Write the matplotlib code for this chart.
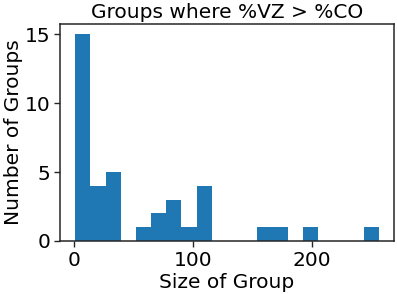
import matplotlib
matplotlib.use("Agg")
import matplotlib.pyplot as plt
import numpy as np

# Histogram data: 20 equal bins between min and max group size
data_min = 1
data_max = 256
n_bins = 20
counts = [15, 4, 5, 0, 1, 2, 3, 1, 4, 0, 0, 0, 1, 1, 0, 1, 0, 0, 0, 1]

title = "Groups where %VZ > %CO"
xlabel = "Size of Group"
ylabel = "Number of Groups"

edges = np.linspace(data_min, data_max, n_bins + 1)
centers = (edges[:-1] + edges[1:]) / 2

plt.rcParams['font.family'] = ['DejaVu Sans']
fs = 14.5
fig = plt.figure(figsize=(3.97, 2.94), dpi=100)
ax = fig.add_axes([60/397, 1 - 241/294, 334/397, 217/294])
ax.hist(centers, bins=edges, weights=counts, color='#1f77b4')
ax.set_xticks([0, 100, 200])
ax.set_yticks([0, 5, 10, 15])
ax.tick_params(labelsize=fs, direction='out', length=4, width=1, color='#262626', labelcolor='black')
ax.tick_params(axis='y', pad=3)
for s in ax.spines.values():
    s.set_color('#262626')
    s.set_linewidth(1.1)
ax.set_title(title, fontsize=fs, pad=4)
ax.set_xlabel(xlabel, fontsize=fs, labelpad=2)
ax.set_ylabel(ylabel, fontsize=fs, labelpad=1)
fig.savefig("out.png", dpi=100)
